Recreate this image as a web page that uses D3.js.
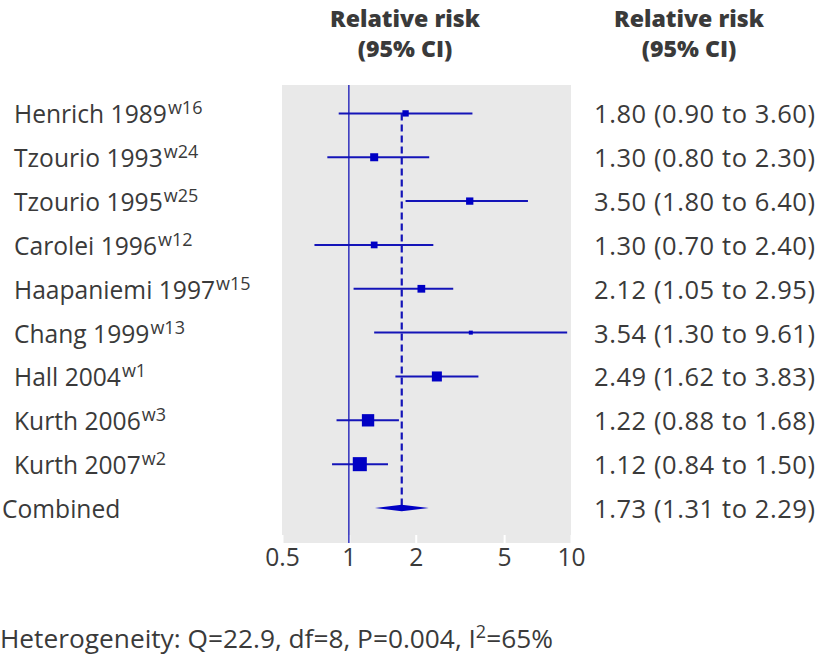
<!DOCTYPE html>
<html><head><meta charset="utf-8">
<script src="https://cdn.jsdelivr.net/npm/d3@7"></script>
<style>body{margin:0;background:#fff}svg{display:block}</style>
</head><body><svg id="c" width="820" height="656"></svg>
<script>
const studies = ["Henrich 1989","Tzourio 1993","Tzourio 1995","Carolei 1996","Haapaniemi 1997","Chang 1999","Hall 2004","Kurth 2006","Kurth 2007"];
const refs = ["w16","w24","w25","w12","w15","w13","w1","w3","w2"];
const rr = [1.80,1.30,3.50,1.30,2.12,3.54,2.49,1.22,1.12];
const lower = [0.90,0.80,1.80,0.70,1.05,1.30,1.62,0.88,0.84];
const upper = [3.60,2.30,6.40,2.40,2.95,9.61,3.83,1.68,1.50];
const weights = [5.5,8.8,7.3,6.2,8.2,2.2,13.8,20.9,27.1];
const combinedLabel = "Combined";
const combined = [1.73,1.31,2.29];
const tickValues = [0.5,1,2,5,10];
const headerLines = ["Relative risk","(95% CI)"];
const footnote = ["Heterogeneity: Q=22.9, df=8, P=0.004, I","2","=65%"];

(function(){
const svg = d3.select("#c");
const font = "'Open Sans', sans-serif";
const txt = "#3a3a3a";
const blue = "#1414b8";
const sq = "#0000c4";

function fit(sample, target, weight){
  const t = svg.append("text").style("font-family",font).style("font-size","100px")
    .style("font-weight",weight||400).text(sample);
  const w = t.node().getComputedTextLength(); t.remove();
  return 100*target/w;
}
const fsLab = Math.min(26, fit(studies[0], 153));
let fsVal = fit("1.80 (0.90 to 3.60)", 221);
let lsVal = 0;
if (fsVal > 25.5){ const w = 221*25.5/fsVal; lsVal = (221-w)/18; fsVal = 25.5; }
const fsFoot = Math.min(27, fit(footnote[0], 476));
const fsHead = fit(headerLines[0], 150, 800);

const x = d3.scaleLog().domain([0.5,10]).range([282,571]);
const rows = studies.concat([combinedLabel]);
const y = d3.scalePoint().domain(rows).range([113.4,508]);
const yTop = 85, yBot = 543;

svg.append("rect").attr("x",x(0.5)).attr("y",yTop).attr("width",x(10)-x(0.5)).attr("height",yBot-yTop).attr("fill","#e9e9e9");

const ax = svg.append("g").attr("transform",`translate(0,${yBot})`)
  .call(d3.axisBottom(x).tickValues(tickValues).tickFormat(d=>String(d)).tickSizeInner(-8).tickSizeOuter(0));
ax.select(".domain").remove();
ax.selectAll(".tick line").attr("stroke","#fff").attr("stroke-width",2);
ax.selectAll(".tick text").attr("y",23).attr("dy",0).attr("fill",txt)
  .style("font-family",font).style("font-size",fsLab+"px");

svg.append("line").attr("x1",x(1)).attr("x2",x(1)).attr("y1",yTop).attr("y2",yBot)
  .attr("stroke",blue).attr("stroke-width",1.3);

svg.append("line").attr("x1",x(combined[0])).attr("x2",x(combined[0]))
  .attr("y1",y(studies[0])).attr("y2",y(combinedLabel)-3)
  .attr("stroke",blue).attr("stroke-width",2.2).attr("stroke-dasharray","7,4");

const data = studies.map((s,i)=>({s,ref:refs[i],rr:rr[i],lo:lower[i],hi:upper[i],w:weights[i]}));
svg.selectAll(".ci").data(data).join("line")
  .attr("x1",d=>x(d.lo)).attr("x2",d=>x(d.hi)).attr("y1",d=>y(d.s)).attr("y2",d=>y(d.s))
  .attr("stroke",blue).attr("stroke-width",2);
const k = 2.7;
svg.selectAll(".sq").data(data).join("rect")
  .attr("x",d=>x(d.rr)-k*Math.sqrt(d.w)/2).attr("y",d=>y(d.s)-k*Math.sqrt(d.w)/2)
  .attr("width",d=>k*Math.sqrt(d.w)).attr("height",d=>k*Math.sqrt(d.w)).attr("fill",sq);

const cy = y(combinedLabel);
svg.append("path").attr("d",`M${x(combined[1])},${cy}L${x(combined[0])},${cy-3.2}L${x(combined[2])},${cy}L${x(combined[0])},${cy+3.2}Z`).attr("fill",sq);

const f2 = d3.format(".2f");
const lab = svg.selectAll(".lab").data(data).join("text")
  .attr("x",14).attr("y",d=>y(d.s)+10).attr("fill",txt)
  .style("font-family",font).style("font-size",fsLab+"px");
lab.append("tspan").text(d=>d.s);
lab.append("tspan").attr("dy",-9).attr("dx",1).style("font-size","18px").text(d=>d.ref);
svg.append("text").attr("x",2).attr("y",cy+10).attr("fill",txt)
  .style("font-family",font).style("font-size",fsLab+"px").text(combinedLabel);

const vals = data.map(d=>[d.s,d.rr,d.lo,d.hi]).concat([[combinedLabel].concat(combined)]);
svg.selectAll(".val").data(vals).join("text")
  .attr("x",594).attr("y",d=>y(d[0])+10).attr("fill",txt)
  .style("font-family",font).style("font-size",fsVal+"px").style("letter-spacing",lsVal+"px")
  .text(d=>`${f2(d[1])} (${f2(d[2])} to ${f2(d[3])})`);

[405,689].forEach(cx=>{
  headerLines.forEach((t,i)=>{
    svg.append("text").attr("x",cx).attr("y",27+i*30).attr("text-anchor","middle")
      .attr("fill",txt).style("font-family",font).style("font-size",fsHead+"px").style("font-weight",800).text(t);
  });
});

const fn = svg.append("text").attr("x",0).attr("y",648).attr("fill",txt)
  .style("font-family",font).style("font-size",fsFoot+"px");
fn.append("tspan").text(footnote[0]);
fn.append("tspan").attr("dy",-10).style("font-size","18px").text(footnote[1]);
fn.append("tspan").attr("dy",10).text(footnote[2]);
})();
</script></body></html>
